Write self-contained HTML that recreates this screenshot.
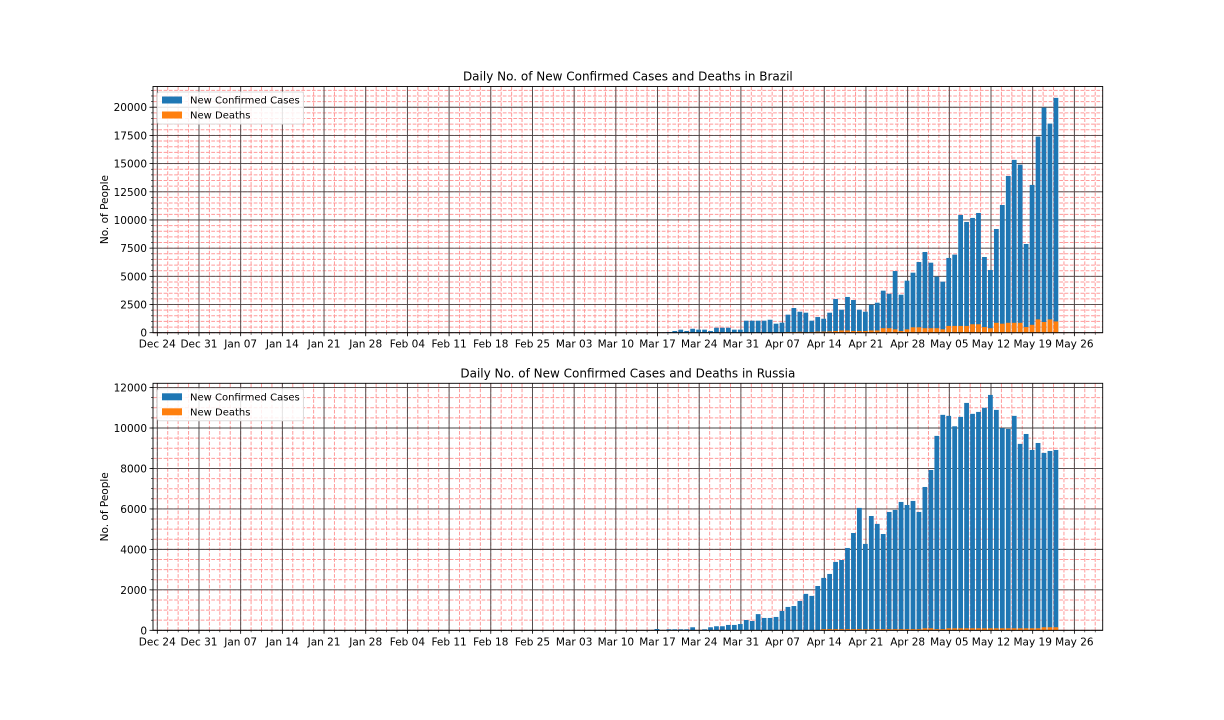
<!DOCTYPE html>
<html><head><meta charset="utf-8"><style>
body{margin:0;background:#fff;}
svg{display:block;font-family:"DejaVu Sans","Liberation Sans",sans-serif;}
</style></head><body>
<svg id="chart" width="1224" height="720" xmlns="http://www.w3.org/2000/svg"></svg>
<script>
// Data (bar per day)
const tickLabels = ["Dec 24","Dec 31","Jan 07","Jan 14","Jan 21","Jan 28","Feb 04","Feb 11","Feb 18","Feb 25","Mar 03","Mar 10","Mar 17","Mar 24","Mar 31","Apr 07","Apr 14","Apr 21","Apr 28","May 05","May 12","May 19","May 26"];
const brazilStartDay = 86; // days after Dec 24 (Mar 19)
const brazilCases = [60,150,270,150,350,270,270,150,440,440,440,270,270,1065,1065,1065,1065,1150,800,890,1600,2190,1860,1775,1065,1390,1240,1775,2990,2040,3170,2900,2040,1860,2485,2660,3730,3460,5470,3370,4615,5325,6270,7160,6210,4970,4530,6630,6925,10445,9825,10180,10620,6715,5560,9200,11330,13900,15330,14910,7870,13110,17400,19970,18550,20830];
const brazilDeaths = [0,0,0,0,0,0,0,0,0,0,0,0,0,0,0,0,0,0,0,0,60,60,80,40,60,100,100,120,150,200,200,150,150,150,200,200,400,400,300,150,300,480,480,400,400,400,300,600,600,600,600,750,750,500,400,880,800,880,880,880,500,700,1180,950,1180,1000];
const russiaStartDay = 84; // Mar 17
const russiaCases = [65,0,50,50,50,50,150,0,50,150,200,200,265,265,310,510,460,800,610,610,660,955,1155,1200,1450,1800,1700,2190,2590,2785,3380,3475,4070,4810,6050,4270,5650,5260,4760,5850,5950,6345,6195,6395,5850,7085,7925,9610,10650,10600,10085,10550,11240,10700,10795,11000,11635,10895,9990,9955,10600,9215,9705,8915,9260,8770,8865,8915];
const russiaDeaths = [0,0,0,0,0,0,0,0,0,0,0,0,0,0,0,0,0,0,0,0,0,0,0,0,0,0,0,0,60,60,60,60,60,60,60,60,60,60,60,60,60,60,60,60,60,100,100,60,60,100,100,100,100,100,100,100,100,100,100,100,100,100,100,100,100,150,150,150];

const NS="http://www.w3.org/2000/svg";
const svg=document.getElementById('chart');
function mk(tag,attrs,parent){const e=document.createElementNS(NS,tag);for(const k in attrs)e.setAttribute(k,attrs[k]);(parent||svg).appendChild(e);return e;}
const X0=153, X1=1102.7, D0=157.3, PPD=5.955;
const xs=d=>D0+d*PPD;
const MINOR={stroke:'#ff9a9a','stroke-width':1,'stroke-dasharray':'3.7,1.6'};

function panel(opt){
  const g=mk('g',{});
  
  
  const {top,bottom,ymax,major,minor}=opt;
  const ys=v=>bottom-(v/ymax)*(bottom-top);
  for(let d=0;d<=160;d+=1.75){const x=xs(d);if(x<X0||x>X1)continue;
    const l=mk('line',Object.assign({x1:x,x2:x,y1:top,y2:bottom},MINOR),g);
    
    mk('line',{x1:x,x2:x,y1:bottom,y2:bottom+2,stroke:'#000','stroke-width':0.6},g);}
  for(let v=0;v<=ymax;v+=minor){const y=ys(v);
    const l=mk('line',Object.assign({x1:X0,x2:X1,y1:y,y2:y},MINOR),g);
    
    mk('line',{x1:X0-2,x2:X0,y1:y,y2:y,stroke:'#000','stroke-width':0.6},g);}
  tickLabels.forEach((t,i)=>{const x=xs(i*7);
    mk('line',{x1:x,x2:x,y1:top,y2:bottom,stroke:'#444','stroke-width':0.9},g);
    mk('line',{x1:x,x2:x,y1:bottom,y2:bottom+3.5,stroke:'#000','stroke-width':0.8},g);
    const tx=mk('text',{x:x,y:bottom+15,'font-size':10.5,'text-anchor':'middle',fill:'#000'},g);
    tx.textContent=t;});
  for(let v=0;v<=ymax;v+=major){const y=ys(v);
    mk('line',{x1:X0,x2:X1,y1:y,y2:y,stroke:'#444','stroke-width':0.9},g);
    mk('line',{x1:X0-3.5,x2:X0,y1:y,y2:y,stroke:'#000','stroke-width':0.8},g);
    const tx=mk('text',{x:X0-6,y:y+4,'font-size':10.5,'text-anchor':'end',fill:'#000'},g);
    tx.textContent=v;}
  const bw=0.8*PPD;
  opt.cases.forEach((v,i)=>{const x=xs(opt.start+i)-bw/2-0.6;
    const r=mk('rect',{x:x,y:ys(v),width:bw,height:bottom-ys(v),fill:'#1f77b4'},g);
    });
  opt.deaths.forEach((v,i)=>{if(!v)return;const x=xs(opt.start+i)-bw/2-0.6;
    const r=mk('rect',{x:x,y:ys(v),width:bw,height:bottom-ys(v),fill:'#ff7f0e'},g);
    });
  mk('rect',{x:X0,y:top,width:X1-X0,height:bottom-top,fill:'none',stroke:'#000','stroke-width':0.9},g);
  const ti=mk('text',{x:(X0+X1)/2,y:top-6,'font-size':12,'text-anchor':'middle',fill:'#000'},g);
  ti.textContent=opt.title;
  const cy=(top+bottom)/2;
  const yl=mk('text',{x:108,y:cy,'font-size':10.5,'text-anchor':'middle',fill:'#000',transform:`rotate(-90 108 ${cy})`},g);
  yl.textContent='No. of People';
  const lg=mk('g',{},g);
  
  mk('rect',{x:157.5,y:top+5.5,width:146,height:32,fill:'#fff','fill-opacity':0.85,stroke:'#ddd',rx:2},lg);
  [['New Confirmed Cases','#1f77b4'],['New Deaths','#ff7f0e']].forEach((e,i)=>{
    const eg=mk('g',{},lg);
    
    mk('rect',{x:162,y:top+10+i*15,width:20,height:7,fill:e[1]},eg);
    const t=mk('text',{x:190,y:top+17+i*15,'font-size':10,fill:'#000'},eg);t.textContent=e[0];});
}
panel({name:'brazil-chart',title:'Daily No. of New Confirmed Cases and Deaths in Brazil',top:86.5,bottom:332.7,ymax:21840,major:2500,minor:500,start:brazilStartDay,cases:brazilCases,deaths:brazilDeaths});
panel({name:'russia-chart',title:'Daily No. of New Confirmed Cases and Deaths in Russia',top:383.3,bottom:630.3,ymax:12210,major:2000,minor:500,start:russiaStartDay,cases:russiaCases,deaths:russiaDeaths});
</script>
</body></html>
